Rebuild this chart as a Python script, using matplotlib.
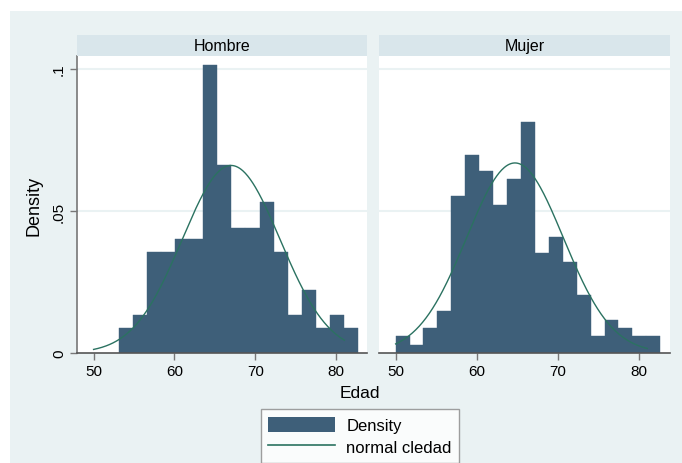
import numpy as np
import matplotlib
matplotlib.use("Agg")
import matplotlib.pyplot as plt
from matplotlib.patches import Rectangle, Patch
from matplotlib.lines import Line2D

plt.rcParams['font.family'] = ['Liberation Sans', 'DejaVu Sans']

# histogram of age by sex, density scale
groups = ["Hombre", "Mujer"]

hombre_lo, hombre_hi, hombre_nbins = 53.1, 82.7, 17
hombre_density = [0.0089, 0.0134, 0.0355, 0.0355, 0.0401, 0.0401, 0.1015, 0.0663,
                  0.0441, 0.0441, 0.0531, 0.0355, 0.0134, 0.0222, 0.0089, 0.0134, 0.0089]

mujer_lo, mujer_hi, mujer_nbins = 50.0, 82.6, 19
mujer_density = [0.0061, 0.0029, 0.0089, 0.0148, 0.0554, 0.0698, 0.0641, 0.0522,
                 0.0612, 0.0813, 0.0352, 0.0408, 0.0320, 0.0205, 0.0061, 0.0117,
                 0.0089, 0.0061, 0.0061]

# normal curve parameters (mean, sd) per group, plotted over the age range
normal_mean = [67.0, 64.7]
normal_sd = [6.04, 5.96]
curve_range = (50.0, 81.0)

xticks = [50, 60, 70, 80]
yticks = [0, 0.05, 0.1]
ytick_labels = ["0", ".05", ".1"]

BG = "#EAF2F3"
STRIP = "#D9E6EB"
BAR = "#3E5F79"
CURVE = "#2B7261"

W, H = 682, 464
fig = plt.figure(figsize=(W / 100, H / 100), dpi=100)
fig.patch.set_facecolor("white")
fig.add_artist(Rectangle((10 / W, 0), 1 - 10 / W, 1 - 12 / H, transform=fig.transFigure,
                         facecolor=BG, edgecolor="none", zorder=-10))

def fx(px):
    return px / W

def fy(py):
    return 1 - py / H

panels = [
    (77, 367, hombre_lo, hombre_hi, hombre_nbins, hombre_density),
    (379, 670, mujer_lo, mujer_hi, mujer_nbins, mujer_density),
]
top, bottom = 57, 354

for i, (x0, x1, lo, hi, nb, dens) in enumerate(panels):
    ax = fig.add_axes([fx(x0), fy(bottom), fx(x1 - x0), (bottom - top) / H])
    ax.set_facecolor("white")
    edges = np.linspace(lo, hi, nb + 1)
    ax.bar(edges[:-1], dens, width=np.diff(edges), align="edge", color=BAR,
           edgecolor=BAR, linewidth=0.3, zorder=2)
    xs = np.linspace(curve_range[0], curve_range[1], 300)
    pdf = np.exp(-0.5 * ((xs - normal_mean[i]) / normal_sd[i]) ** 2) / (normal_sd[i] * np.sqrt(2 * np.pi))
    ax.plot(xs, pdf, color=CURVE, lw=1.0, zorder=3)
    for yv in yticks[1:]:
        ax.axhline(yv, color=BG, lw=1.5, zorder=1)
    ax.set_xlim(47.95, 83.8)
    ax.set_ylim(0, 0.1046)
    ax.set_xticks(xticks)
    ax.set_xticklabels([str(t) for t in xticks], fontsize=11)
    for s in ["top", "right"]:
        ax.spines[s].set_visible(False)
    ax.spines["bottom"].set_color("#555555")
    ax.spines["bottom"].set_linewidth(1.2)
    ax.tick_params(axis="x", length=5, width=1, color="#777777", pad=3)
    if i == 0:
        ax.set_yticks(yticks)
        ax.set_yticklabels(ytick_labels, fontsize=11, rotation=90, va="center")
        ax.spines["left"].set_color("#777777")
        ax.spines["left"].set_linewidth(1.2)
        ax.tick_params(axis="y", length=5, width=1, color="#777777", pad=3)
        ax.set_ylabel("Density", fontsize=13, labelpad=7)
    else:
        ax.spines["left"].set_visible(False)
        ax.set_yticks([])
    # panel strip
    fig.add_artist(Rectangle((fx(x0), fy(top)), fx(x1 - x0), (top - 36) / H,
                             transform=fig.transFigure, facecolor=STRIP, edgecolor="none"))
    fig.text(fx((x0 + x1) / 2), fy((36 + top) / 2), groups[i], ha="center", va="center",
             fontsize=11.5)

fig.text(fx(360), fy(394), "Edad", ha="center", va="center", fontsize=12.5)

handles = [Patch(facecolor=BAR, edgecolor="none"), Line2D([], [], color=CURVE, lw=1.2)]
leg = fig.legend(handles, ["Density", "normal cledad"], loc="upper center",
                 bbox_to_anchor=(fx(360), fy(410)), fontsize=12, frameon=True,
                 fancybox=False, handlelength=4.0, handleheight=1.05,
                 handletextpad=0.7, borderpad=0.45, labelspacing=0.35,
                 borderaxespad=0)
leg.get_frame().set_edgecolor("#888888")
leg.get_frame().set_linewidth(1.0)

fig.savefig("out.png", dpi=100, facecolor=fig.get_facecolor())
